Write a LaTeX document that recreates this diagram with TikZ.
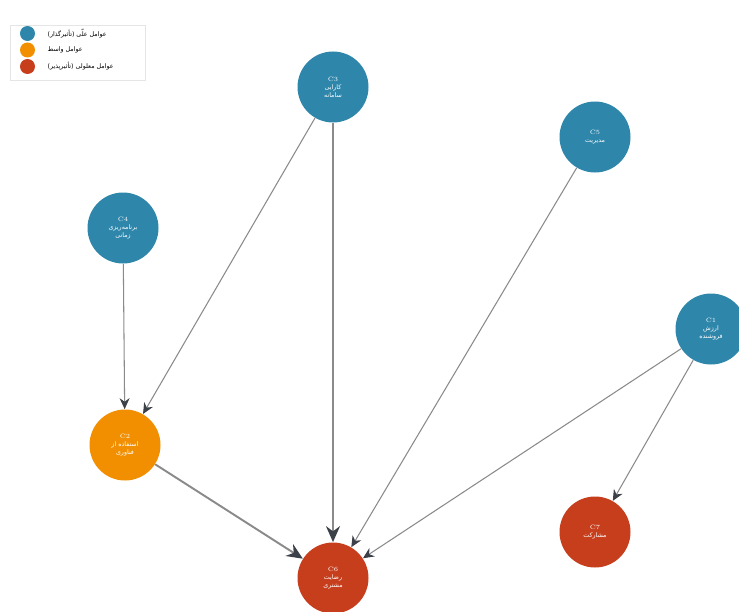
\documentclass[tikz,border=0pt]{standalone}
\usepackage{fontspec}
\newfontfamily\arabicfont[Script=Arabic]{DejaVu Sans}
\TeXXeTstate=1
\usetikzlibrary{arrows.meta,positioning}
\definecolor{causeblue}{HTML}{2E86AB}
\definecolor{midorange}{HTML}{F18F01}
\definecolor{effectred}{HTML}{C73E1D}
\definecolor{edgegray}{HTML}{8A8A8A}
\definecolor{tipgray}{HTML}{3C4048}
\newcommand{\fa}[1]{\arabicfont\beginR #1\endR}

\begin{document}
\begin{tikzpicture}[
    factor/.style={circle, minimum size=1.42cm, inner sep=0pt, text=white, align=center, font=\fontsize{3.6}{4.6}\selectfont},
    cause/.style={factor, fill=causeblue},
    mediator/.style={factor, fill=midorange},
    effect/.style={factor, fill=effectred},
    link/.style={draw=edgegray, line width=0.6pt, -{Stealth[length=2.2mm, width=2mm, color=tipgray]}},
    heavy/.style={draw=edgegray, line width=1.1pt, -{Stealth[length=3.2mm, width=2.8mm, color=tipgray]}},
    dot/.style={circle, minimum size=0.3cm, inner sep=0pt}
]
\useasboundingbox (0,0) rectangle (14.78,-12.24);

% Legend
\node[draw=black!10, fill=white, minimum width=2.7cm, minimum height=1.1cm, anchor=north west] (legend) at (0.2,-0.5) {};
\node[dot, fill=causeblue] (lg1) at (0.55,-0.67) {};
\node[dot, fill=midorange] (lg2) at (0.55,-1.0) {};
\node[dot, fill=effectred] (lg3) at (0.55,-1.33) {};
\node[right=0.12cm of lg1, font=\fontsize{3.6}{4}\selectfont] {\fa{عوامل علّی (تأثیرگذار)}};
\node[right=0.12cm of lg2, font=\fontsize{3.6}{4}\selectfont] {\fa{عوامل واسط}};
\node[right=0.12cm of lg3, font=\fontsize{3.6}{4}\selectfont] {\fa{عوامل معلولی (تأثیرپذیر)}};

% Factors
\node[cause] (c3) at (6.66,-1.74) {C3\\\fa{کارایی}\\\fa{سامانه}};
\node[cause] (c4) at (2.46,-4.56) {C4\\\fa{برنامه‌ریزی}\\\fa{زمانی}};
\node[cause] (c5) at (11.9,-2.74) {C5\\\fa{مدیریت}};
\node[cause] (c1) at (14.22,-6.58) {C1\\\fa{ارزش}\\\fa{فروشنده}};
\node[mediator] (c2) at (2.5,-8.9) {C2\\\fa{استفاده از}\\\fa{فناوری}};
\node[effect] (c6) at (6.66,-11.56) {C6\\\fa{رضایت}\\\fa{مشتری}};
\node[effect] (c7) at (11.9,-10.64) {C7\\\fa{مشارکت}};

% Links
\draw[link] (c3) -- (c2);
\draw[heavy] (c3) -- (c6);
\draw[link] (c4) -- (c2);
\draw[link] (c5) -- (c6);
\draw[link] (c1) -- (c6);
\draw[link] (c1) -- (c7);
\draw[heavy] (c2) -- (c6);

\end{tikzpicture}
\end{document}
